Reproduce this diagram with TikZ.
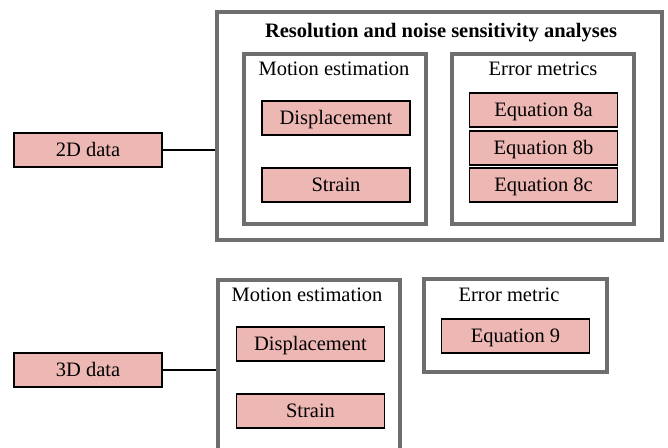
\documentclass[tikz,border=0pt]{standalone}
\usepackage{fontspec}
\setmainfont{Liberation Serif}
\usetikzlibrary{positioning}
\definecolor{boxpink}{HTML}{EDB7B4}
\definecolor{framegray}{HTML}{6E6E6E}

\begin{document}
\begin{tikzpicture}[x=1pt,y=-1pt,
    font=\fontsize{20.5}{24}\selectfont,
    every node/.style={text height=13.8pt,text depth=0pt},
    item/.style={draw=black,line width=1.6pt,fill=boxpink,minimum width=148pt,minimum height=34pt,inner sep=0pt},
    frame/.style={draw=framegray,line width=3.2pt,inner sep=0pt},
    link/.style={line width=1.6pt}]
  \clip (0,0) rectangle (668,447);
  \node[item] (data2d) at (88,150) {2D data};
  \node[frame,minimum width=445pt,minimum height=228pt] (outer) at (439.5,126) {};
  \node (title) at (441,31) {\bfseries Resolution and noise sensitivity analyses};
  \node[frame,minimum width=182pt,minimum height=170pt] (motion2d) at (335,139) {};
  \node (motionlab2d) at (334,69) {Motion estimation};
  \node[item] (disp2d) at (336,118) {Displacement};
  \node[item] (strain2d) at (336,185) {Strain};
  \node[frame,minimum width=182pt,minimum height=170pt] (error2d) at (543,139) {};
  \node (errorlab2d) at (543,69) {Error metrics};
  \node[item] (eqa) at (543.5,110) {Equation 8a};
  \node[item] (eqb) at (543.5,148) {Equation 8b};
  \node[item] (eqc) at (543.5,185) {Equation 8c};
  \draw[link] (data2d.east) -- (data2d.east -| outer.west);

  \node[item] (data3d) at (88,370) {3D data};
  \node[frame,minimum width=182pt,minimum height=190pt] (motion3d) at (309,375) {};
  \node (motionlab3d) at (307,295) {Motion estimation};
  \node[item] (disp3d) at (310.5,344) {Displacement};
  \node[item] (strain3d) at (310.5,411) {Strain};
  \node[frame,minimum width=183pt,minimum height=93pt] (error3d) at (515.5,325.5) {};
  \node (errorlab3d) at (509,295) {Error metric};
  \node[item] (eqnine) at (515.5,336) {Equation 9};
  \draw[link] (data3d.east) -- (data3d.east -| motion3d.west);
\end{tikzpicture}
\end{document}
